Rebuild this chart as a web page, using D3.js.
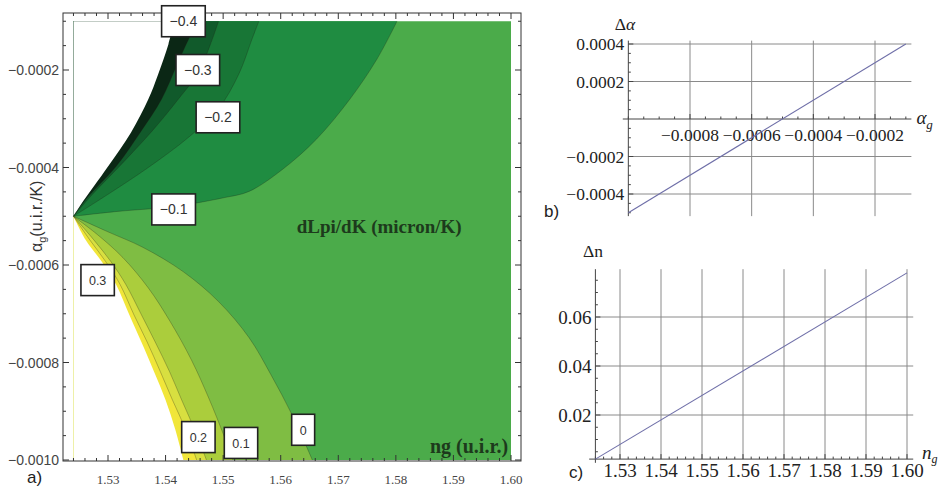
<!DOCTYPE html>
<html><head><meta charset="utf-8">
<script src="https://cdn.jsdelivr.net/npm/d3@7"></script>
<style>body{margin:0;background:#fff}svg{display:block}</style>
</head><body>
<svg id="chart" width="939" height="486"></svg>
<script>
// ================= DATA =================
// Panel a) contour plot dLpi/dK over (ng, alpha_g)
const regionNg = [1.524, 1.60];
const regionAg = [-0.0010, -0.0001];
const ngTicksA = [1.53, 1.54, 1.55, 1.56, 1.57, 1.58, 1.59, 1.60];
const ngTickLabelsA = ["1.53", "1.54", "1.55", "1.56", "1.57", "1.58", "1.59", "1.60"];
const agTicksA = [-0.0002, -0.0004, -0.0006, -0.0008, -0.0010];
const agTickLabelsA = ["\u22120.0002", "\u22120.0004", "\u22120.0006", "\u22120.0008", "\u22120.0010"];

// contour boundaries, each a list of [ng, alpha_g]
const edgeUpper = [[1.524,-0.00050],[1.5253,-0.000476],[1.5300,-0.000398],[1.5340,-0.000328],[1.5370,-0.000260],[1.5387,-0.000209],[1.5405,-0.000147],[1.5415,-0.000100]];
const levelM04 = [[1.524,-0.00050],[1.5261,-0.000466],[1.5314,-0.000398],[1.5356,-0.000328],[1.5393,-0.000260],[1.5419,-0.000192],[1.5440,-0.000137],[1.5457,-0.000100]];
const levelM03 = [[1.524,-0.00050],[1.5273,-0.000455],[1.5326,-0.000390],[1.5379,-0.000322],[1.5422,-0.000260],[1.5457,-0.000205],[1.5478,-0.000147],[1.5492,-0.000100]];
const levelM02 = [[1.524,-0.00050],[1.5300,-0.000455],[1.5370,-0.000400],[1.5440,-0.000338],[1.5491,-0.000281],[1.5527,-0.000209],[1.5550,-0.000137],[1.5562,-0.000100]];
const levelM01 = [[1.524,-0.00050],[1.5317,-0.000490],[1.5414,-0.000480],[1.5501,-0.000462],[1.5545,-0.000449],[1.5603,-0.000404],[1.5662,-0.000342],[1.5720,-0.000260],[1.5767,-0.000178],[1.5802,-0.000100]];
const levelP00 = [[1.524,-0.00050],[1.5300,-0.000532],[1.5361,-0.000564],[1.5431,-0.000614],[1.5492,-0.000675],[1.5545,-0.000749],[1.5583,-0.000825],[1.5620,-0.000908],[1.5655,-0.001000]];
const levelP01 = [[1.524,-0.00050],[1.5282,-0.000538],[1.5326,-0.000585],[1.5370,-0.000647],[1.5408,-0.000716],[1.5445,-0.000795],[1.5475,-0.000873],[1.5501,-0.000949],[1.5517,-0.001000]];
const levelP02 = [[1.524,-0.00050],[1.5275,-0.000548],[1.5305,-0.000593],[1.5331,-0.000640],[1.5358,-0.000702],[1.5382,-0.000758],[1.5407,-0.000819],[1.5428,-0.000877],[1.5452,-0.000942],[1.5471,-0.001000]];
const levelP03 = [[1.524,-0.00050],[1.5268,-0.000548],[1.5296,-0.000593],[1.5321,-0.000640],[1.5345,-0.000702],[1.5368,-0.000758],[1.5391,-0.000819],[1.5412,-0.000877],[1.5435,-0.000938],[1.5454,-0.001000]];
const edgeLower = [[1.524,-0.00050],[1.5261,-0.000548],[1.5289,-0.000593],[1.5314,-0.000640],[1.5337,-0.000702],[1.5358,-0.000758],[1.5380,-0.000819],[1.5400,-0.000877],[1.5417,-0.000938],[1.5431,-0.001000]];

const contourLabelText = ["\u22120.4", "\u22120.3", "\u22120.2", "\u22120.1", "0", "0.1", "0.2", "0.3"];
const contourLabelNg = [1.5431, 1.5456, 1.5491, 1.5414, 1.5639, 1.5531, 1.5457, 1.5282];
const contourLabelAg = [-0.000100, -0.000200, -0.000297, -0.000486, -0.000938, -0.000965, -0.000953, -0.000631];

const annotTextA = ["dLpi/dK (micron/K)", "ng (u.i.r.)"];
const annotNgA = [1.5771, 1.5995];
const annotAgA = [-0.000534, -0.000986];

// Panel b) delta alpha vs alpha_g
const bAlphaG = [-0.0010, -0.0001];
const bDeltaAlpha = [-0.0005, 0.0004];
const bXTicks = [-0.0008, -0.0006, -0.0004, -0.0002];
const bXTickLabels = ["\u22120.0008", "\u22120.0006", "\u22120.0004", "\u22120.0002"];
const bYTicks = [-0.0004, -0.0002, 0.0002, 0.0004];
const bYTickLabels = ["\u22120.0004", "\u22120.0002", "0.0002", "0.0004"];

// Panel c) delta n vs n_g
const cNg = [1.524, 1.60];
const cDeltaN = [0.002, 0.078];
const cXTicks = [1.53, 1.54, 1.55, 1.56, 1.57, 1.58, 1.59, 1.60];
const cXTickLabels = ["1.53", "1.54", "1.55", "1.56", "1.57", "1.58", "1.59", "1.60"];
const cYTicks = [0.02, 0.04, 0.06];
const cYTickLabels = ["0.02", "0.04", "0.06"];

// ================= DRAW =================
const svg = d3.select("#chart");
const SERIF = "'Liberation Serif','Times New Roman',serif";
const SANS = "'Liberation Sans',Arial,sans-serif";
const r6 = v => Math.round(v * 1e7) / 1e7;
const isIn = (v, arr) => arr.some(a => Math.abs(a - v) < 1e-9);

// ---------- Panel a ----------
const xA = d3.scaleLinear().domain([1.53, 1.60]).range([108, 511]);
const yA = d3.scaleLinear().domain([-0.0010, -0.0002]).range([460, 70]);
const fA = {x0: 63, x1: 521, y0: 13, y1: 461};

const gA = svg.append("g");
const lineA = d3.line().x(d => xA(d[0])).y(d => yA(d[1])).curve(d3.curveCatmullRom.alpha(0.5));
const regionPath = (curve, cornerAg) => lineA(curve) + `L${xA(regionNg[0])},${yA(cornerAg)}Z`;

gA.append("rect")
  .attr("x", xA(regionNg[0])).attr("y", yA(regionAg[1]))
  .attr("width", xA(regionNg[1]) - xA(regionNg[0]))
  .attr("height", yA(regionAg[0]) - yA(regionAg[1]))
  .attr("fill", "#4bab4a");

const upper = [[levelM01, "#1f8c41"], [levelM02, "#187636"], [levelM03, "#115a2b"], [levelM04, "#0b2715"], [edgeUpper, "#ffffff"]];
const lower = [[levelP00, "#7fbd43"], [levelP01, "#abcd3c"], [levelP02, "#d8df40"], [levelP03, "#f1e63a"], [edgeLower, "#ffffff"]];
upper.forEach(([c, col]) => gA.append("path").attr("d", regionPath(c, regionAg[1])).attr("fill", col));
lower.forEach(([c, col]) => gA.append("path").attr("d", regionPath(c, regionAg[0])).attr("fill", col));
[levelM01, levelM02, levelM03, levelM04, levelP00, levelP01, levelP02, levelP03].forEach(c =>
  gA.append("path").attr("d", lineA(c)).attr("fill", "none").attr("stroke", "rgba(30,30,20,0.35)").attr("stroke-width", 0.8));

// frame
gA.append("rect").attr("x", fA.x0).attr("y", fA.y0).attr("width", fA.x1 - fA.x0).attr("height", fA.y1 - fA.y0)
  .attr("fill", "none").attr("stroke", "#333").attr("stroke-width", 1);
d3.range(1.522, 1.6012, 0.002).map(r6).forEach(v => {
  const big = isIn(v, ngTicksA), L = big ? 6 : 3, x = xA(v);
  if (x < fA.x0 || x > fA.x1) return;
  gA.append("line").attr("x1", x).attr("x2", x).attr("y1", fA.y1).attr("y2", fA.y1 - L).attr("stroke", "#333");
  gA.append("line").attr("x1", x).attr("x2", x).attr("y1", fA.y0).attr("y2", fA.y0 + L).attr("stroke", "#333");
});
d3.range(-0.00100, -0.00007, 0.00005).map(r6).forEach(v => {
  const big = isIn(v, agTicksA), L = big ? 6 : 3, y = yA(v);
  if (y < fA.y0 || y > fA.y1) return;
  gA.append("line").attr("y1", y).attr("y2", y).attr("x1", fA.x0).attr("x2", fA.x0 + L).attr("stroke", "#333");
  gA.append("line").attr("y1", y).attr("y2", y).attr("x1", fA.x1).attr("x2", fA.x1 - L).attr("stroke", "#333");
});
ngTicksA.forEach((v, i) => gA.append("text").attr("x", xA(v)).attr("y", 484).attr("text-anchor", "middle")
  .attr("font-family", SERIF).attr("font-size", 13).attr("fill", "#444").text(ngTickLabelsA[i]));
agTicksA.forEach((v, i) => gA.append("text").attr("x", 59).attr("y", yA(v) + 5).attr("text-anchor", "end")
  .attr("font-family", SANS).attr("font-size", 14).attr("fill", "#444").text(agTickLabelsA[i]));

const tA = gA.append("text").attr("transform", "translate(42,252) rotate(-90)")
  .attr("font-family", SANS).attr("font-size", 16).attr("fill", "#333");
tA.append("tspan").text("\u03b1");
tA.append("tspan").attr("font-size", 11).attr("dy", 4).text("g");
tA.append("tspan").attr("dy", -4).text("(u.i.r./K)");

gA.append("text").attr("x", xA(annotNgA[0])).attr("y", yA(annotAgA[0])).attr("text-anchor", "middle")
  .attr("font-family", SERIF).attr("font-weight", "bold").attr("font-size", 19).attr("fill", "#1d3a1c").text(annotTextA[0]);
gA.append("text").attr("x", xA(annotNgA[1])).attr("y", yA(annotAgA[1])).attr("text-anchor", "end")
  .attr("font-family", SERIF).attr("font-weight", "bold").attr("font-size", 20).attr("fill", "#1d3a1c").text(annotTextA[1]);

contourLabelText.forEach((t, i) => {
  const g = gA.append("g").attr("transform", `translate(${xA(contourLabelNg[i])},${yA(contourLabelAg[i])})`);
  const rect = g.append("rect");
  const txt = g.append("text").attr("text-anchor", "middle").attr("y", 5)
    .attr("font-family", SANS).attr("font-size", t.startsWith("\u2212") ? 14 : 12.5).attr("fill", "#333").text(t);
  const w = txt.node().getComputedTextLength() + 16, h = 31;
  rect.attr("x", -w / 2).attr("y", -h / 2).attr("width", w).attr("height", h)
    .attr("fill", "#fff").attr("stroke", "#222").attr("stroke-width", 1.6);
});
svg.append("text").attr("x", 27).attr("y", 483).attr("font-family", SANS).attr("font-size", 17).attr("fill", "#222").text("a)");

// ---------- Panel b ----------
const xB = d3.scaleLinear().domain([-0.0008, -0.0002]).range([690, 875]);
const yB = d3.scaleLinear().domain([-0.0004, 0.0004]).range([194, 44]);
const gB = svg.append("g");
const padBx = 0.02 * (xB(bAlphaG[1]) - xB(bAlphaG[0]));
const padBy = 0.02 * (yB(bDeltaAlpha[0]) - yB(bDeltaAlpha[1]));
const bx0 = xB(bAlphaG[0]) - padBx, bx1 = xB(bAlphaG[1]) + padBx;
const by0 = yB(bDeltaAlpha[1]) - padBy, by1 = yB(bDeltaAlpha[0]) + padBy;
const bAxisX = xB(bAlphaG[0]);
bXTicks.forEach(v => gB.append("line").attr("x1", xB(v)).attr("x2", xB(v)).attr("y1", by0).attr("y2", by1).attr("stroke", "#8a8a8a"));
bYTicks.forEach(v => gB.append("line").attr("x1", bAxisX).attr("x2", bx1).attr("y1", yB(v)).attr("y2", yB(v)).attr("stroke", "#8a8a8a"));
gB.append("line").attr("x1", bx0).attr("x2", bx1).attr("y1", yB(0)).attr("y2", yB(0)).attr("stroke", "#444");
gB.append("line").attr("x1", bAxisX).attr("x2", bAxisX).attr("y1", by0).attr("y2", by1).attr("stroke", "#444");
d3.range(-0.0010, -0.00009, 0.00005).map(r6).forEach(v => {
  const L = isIn(v, bXTicks) ? 5 : 2.5;
  gB.append("line").attr("x1", xB(v)).attr("x2", xB(v)).attr("y1", yB(0)).attr("y2", yB(0) - L).attr("stroke", "#444");
});
d3.range(-0.0005, 0.00041, 0.00005).map(r6).forEach(v => {
  if (Math.abs(v) < 1e-9) return;
  const L = isIn(v, bYTicks) ? 5 : 2.5;
  gB.append("line").attr("x1", bAxisX).attr("x2", bAxisX + L).attr("y1", yB(v)).attr("y2", yB(v)).attr("stroke", "#444");
});
bXTicks.forEach((v, i) => gB.append("text").attr("x", xB(v)).attr("y", yB(0) + 22).attr("text-anchor", "middle")
  .attr("font-family", SERIF).attr("font-size", 17.5).attr("fill", "#222").text(bXTickLabels[i]));
bYTicks.forEach((v, i) => gB.append("text").attr("x", bAxisX - 4).attr("y", yB(v) + 6).attr("text-anchor", "end")
  .attr("font-family", SERIF).attr("font-size", 17.5).attr("fill", "#222").text(bYTickLabels[i]));
const lineB = d3.line().x((d, i) => xB(bAlphaG[i])).y(d => yB(d));
gB.append("path").attr("d", lineB(bDeltaAlpha)).attr("fill", "none").attr("stroke", "#6f6fa8").attr("stroke-width", 1.1);
const tB = gB.append("text").attr("x", 625).attr("y", 30).attr("text-anchor", "middle").attr("font-family", SERIF).attr("font-size", 17.5).attr("fill", "#222");
tB.append("tspan").text("\u0394");
tB.append("tspan").attr("font-style", "italic").text("\u03b1");
const tBx = gB.append("text").attr("x", bx1 + 5).attr("y", yB(0) + 5).attr("font-family", SERIF).attr("font-size", 19).attr("fill", "#222");
tBx.append("tspan").attr("font-style", "italic").text("\u03b1");
tBx.append("tspan").attr("font-style", "italic").attr("font-size", 13).attr("dy", 5).text("g");
svg.append("text").attr("x", 544).attr("y", 217).attr("font-family", SANS).attr("font-size", 17).attr("fill", "#222").text("b)");

// ---------- Panel c ----------
const xC = d3.scaleLinear().domain([1.53, 1.60]).range([620, 907]);
const yC = d3.scaleLinear().domain([0.02, 0.06]).range([415, 317]);
const gC = svg.append("g");
const padCx = 0.02 * (xC(cNg[1]) - xC(cNg[0]));
const padCy = 0.02 * (yC(cDeltaN[0]) - yC(cDeltaN[1]));
const cx0 = xC(cNg[0]) - padCx, cx1 = xC(cNg[1]) + padCx;
const cy0 = yC(cDeltaN[1]) - padCy, cy1 = yC(cDeltaN[0]) + padCy;
const cAxisX = xC(cNg[0]), cAxisY = yC(cDeltaN[0]);
cXTicks.forEach(v => gC.append("line").attr("x1", xC(v)).attr("x2", xC(v)).attr("y1", cy0).attr("y2", cAxisY).attr("stroke", "#8a8a8a"));
cYTicks.forEach(v => gC.append("line").attr("x1", cAxisX).attr("x2", cx1).attr("y1", yC(v)).attr("y2", yC(v)).attr("stroke", "#8a8a8a"));
gC.append("line").attr("x1", cx0).attr("x2", cx1).attr("y1", cAxisY).attr("y2", cAxisY).attr("stroke", "#444");
gC.append("line").attr("x1", cAxisX).attr("x2", cAxisX).attr("y1", cy0).attr("y2", cy1).attr("stroke", "#444");
d3.range(1.524, 1.6011, 0.002).map(r6).forEach(v => {
  const L = isIn(v, cXTicks) ? 5 : 2.5;
  gC.append("line").attr("x1", xC(v)).attr("x2", xC(v)).attr("y1", cAxisY).attr("y2", cAxisY - L).attr("stroke", "#444");
});
d3.range(0.005, 0.0781, 0.005).map(r6).forEach(v => {
  const L = isIn(v, cYTicks) ? 5 : 2.5;
  gC.append("line").attr("x1", cAxisX).attr("x2", cAxisX + L).attr("y1", yC(v)).attr("y2", yC(v)).attr("stroke", "#444");
});
cXTicks.forEach((v, i) => gC.append("text").attr("x", xC(v)).attr("y", 477).attr("text-anchor", "middle")
  .attr("font-family", SERIF).attr("font-size", 19).attr("fill", "#222").text(cXTickLabels[i]));
cYTicks.forEach((v, i) => gC.append("text").attr("x", cAxisX - 4).attr("y", yC(v) + 6.5).attr("text-anchor", "end")
  .attr("font-family", SERIF).attr("font-size", 19).attr("fill", "#222").text(cYTickLabels[i]));
const lineC = d3.line().x((d, i) => xC(cNg[i])).y(d => yC(d));
gC.append("path").attr("d", lineC(cDeltaN)).attr("fill", "none").attr("stroke", "#6f6fa8").attr("stroke-width", 1.1);
gC.append("text").attr("x", 593).attr("y", 257).attr("text-anchor", "middle").attr("font-family", SERIF).attr("font-size", 17.5).attr("fill", "#222").text("\u0394n");
const tCx = gC.append("text").attr("x", 922).attr("y", 459).attr("font-family", SERIF).attr("font-size", 19).attr("fill", "#222");
tCx.append("tspan").attr("font-style", "italic").text("n");
tCx.append("tspan").attr("font-style", "italic").attr("font-size", 12).attr("dy", 4).text("g");
svg.append("text").attr("x", 569).attr("y", 478).attr("font-family", SANS).attr("font-size", 17).attr("fill", "#222").text("c)");
</script>
</body></html>
